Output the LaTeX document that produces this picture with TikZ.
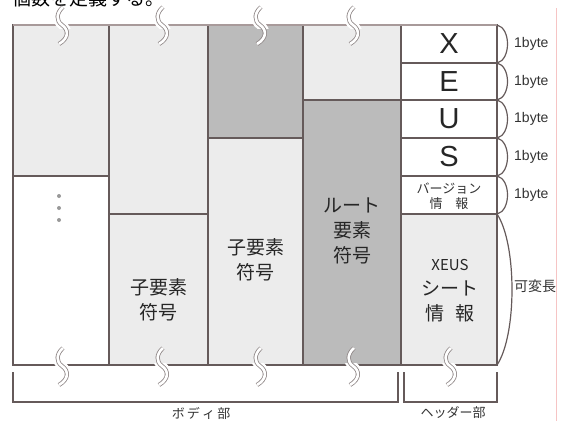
\documentclass[tikz,border=0pt]{standalone}
\usepackage{fontspec}
\setmainfont{Liberation Sans}
\newfontfamily\jp{Noto Sans CJK JP}
\definecolor{lg}{HTML}{ECECEC}
\definecolor{dg}{HTML}{BBBBBB}
\definecolor{linec}{HTML}{655A5A}
\definecolor{topc}{HTML}{A89A9A}
\definecolor{pinkc}{HTML}{F6C4C4}
\definecolor{markc}{HTML}{8E8686}
\begin{document}
\begin{tikzpicture}[x=1pt,y=-1pt,
  cell/.style={inner sep=0pt,outer sep=0pt,draw=linec,line width=1.6pt},
  jtext/.style={font=\jp\fontsize{19}{25}\selectfont,align=center,text=black!85,inner sep=0pt},
  bigletter/.style={font=\fontsize{29}{29}\selectfont,text=black!85,inner sep=0pt},
  small/.style={font=\fontsize{14}{14}\selectfont,text=black!80,inner sep=0pt},
  jsmall/.style={font=\jp\fontsize{13}{15}\selectfont,text=black!80,inner sep=0pt,align=center},
  brace/.style={draw=linec,line width=1.2pt},
  bracket/.style={draw=linec,line width=1.6pt}]
\useasboundingbox (0,0) rectangle (565,421);
% cut-off heading text
\node[font=\jp\fontsize{19}{19}\selectfont,anchor=base west,inner sep=0pt] (head) at (12,5) {個数を定義する。};
% pink guide line
\coordinate (pt) at (556,8);
\coordinate (pb) at (556,421);
\draw[pinkc,line width=1pt] (pt) -- (pb);
% column 1
\node[cell,fill=lg,minimum width=96pt,minimum height=151pt] (c1t) at (61,100.5) {};
\node[cell,fill=white,minimum width=96pt,minimum height=189pt] (c1b) at (61,270.5) {};
% column 2
\node[cell,fill=lg,minimum width=99pt,minimum height=189pt] (c2t) at (158.5,119.5) {};
\node[cell,fill=lg,minimum width=99pt,minimum height=151pt] (c2b) at (158.5,289.5) {};
% column 3
\node[cell,fill=dg,minimum width=95pt,minimum height=113pt] (c3t) at (255.5,81.5) {};
\node[cell,fill=lg,minimum width=95pt,minimum height=227pt] (c3b) at (255.5,251.5) {};
% column 4
\node[cell,fill=lg,minimum width=97pt,minimum height=75pt] (c4t) at (352,62.5) {};
\node[cell,fill=dg,minimum width=97pt,minimum height=265pt] (c4b) at (352,232.5) {};
% header column
\node[cell,fill=white,minimum width=96pt,minimum height=38pt] (hx) at (449,44) {};
\node[cell,fill=white,minimum width=96pt,minimum height=37pt] (he) at (449,81.5) {};
\node[cell,fill=white,minimum width=96pt,minimum height=38pt] (hu) at (449,119) {};
\node[cell,fill=white,minimum width=96pt,minimum height=38pt] (hs) at (449,157) {};
\node[cell,fill=white,minimum width=96pt,minimum height=38pt] (hv) at (449,195) {};
\node[cell,fill=lg,minimum width=96pt,minimum height=151pt] (hh) at (449,289.5) {};
% top frame line (lighter)
\coordinate (tl) at (13,25);
\coordinate (tr) at (497,25);
\draw[topc,line width=2.2pt] (tl) -- (tr);
% texts
\node[bigletter] (tx) at (449,44) {X};
\node[bigletter] (te) at (449,82) {E};
\node[bigletter] (tu) at (449,119) {U};
\node[bigletter] (ts) at (449,157) {S};
\node[jsmall] (tv) at (449,196) {バージョン\\情\hspace{1em}報};
\node[jtext] (th) at (450,291) {{\fontsize{15}{15}\selectfont XEUS}\\シート\\情\hspace{0.6em}報};
\node[jtext] (t4) at (352,231) {ルート\\要素\\符号};
\node[jtext] (t3) at (255.5,260) {子要素\\符号};
\node[jtext] (t2) at (158.5,300) {子要素\\符号};
% dots
\foreach \yy/\nm in {196/da,208/db,220/dc}
  \fill[gray!80] (59,\yy) circle (2pt) coordinate (\nm);
% byte braces
\foreach \r in {hx,he,hu,hs,hv}
  \draw[brace] (\r.north east) .. controls +(14,3) and +(14,-3) .. (\r.south east);
\foreach \r/\yy in {hx/44,he/82,hu/119,hs/157,hv/195}
  \node[small,anchor=west] (b\r) at (514,\yy) {1byte};
\draw[brace] (hh.north east) .. controls +(20,30) and +(20,-30) .. (hh.south east);
\node[font=\jp\fontsize{14}{14}\selectfont,text=black!80,inner sep=0pt] (var) at (535,286) {可変長};
% wavy break marks
\newcommand\wavebreak[2]{%
  \begin{scope}
    \clip (#1-12,#2-3) rectangle (#1+12,#2+3);
    \draw[white,line width=9pt] (#1+1,#2-18) .. controls (#1-6,#2-12) and (#1-6,#2-4) .. (#1,#2) .. controls (#1+7,#2+5) and (#1+7,#2+13) .. (#1-3,#2+19);
  \end{scope}
  \draw[markc,line width=0.8pt,double=white,double distance=2.6pt] (#1+1,#2-18) .. controls (#1-6,#2-12) and (#1-6,#2-4) .. (#1,#2) .. controls (#1+7,#2+5) and (#1+7,#2+13) .. (#1-3,#2+19);
}
\wavebreak{62}{25}
\wavebreak{162}{25}
\wavebreak{260}{25}
\wavebreak{353}{25}
\wavebreak{62}{366}
\wavebreak{162}{366}
\wavebreak{260}{366}
\wavebreak{353}{366}
\wavebreak{450}{366}
% bottom brackets
\coordinate (b1) at (13,372);
\coordinate (b2) at (13,402);
\coordinate (b3) at (398,402);
\coordinate (b4) at (398,372);
\draw[bracket] (b1) -- (b2) -- (b3) -- (b4);
\coordinate (h1) at (404,372);
\coordinate (h2) at (404,402);
\coordinate (h3) at (497,402);
\coordinate (h4) at (497,372);
\draw[bracket] (h1) -- (h2) -- (h3) -- (h4);
\node[font=\jp\fontsize{13}{13}\selectfont,text=black!80,inner sep=0pt] (body) at (201,413) {ボ\,デ\,ィ\,部};
\node[font=\jp\fontsize{13}{13}\selectfont,text=black!80,inner sep=0pt] (hdr) at (453,413) {ヘッダー部};
\end{tikzpicture}
\end{document}
